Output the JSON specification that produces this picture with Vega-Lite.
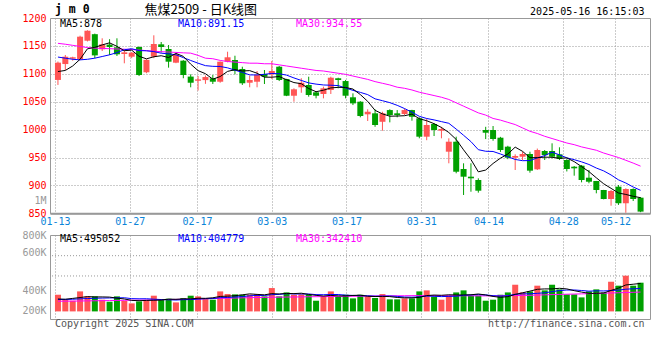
{
"$schema": "https://vega.github.io/schema/vega-lite/v6.json",
"autosize": {"type": "none"},
"padding": {"left": 50, "top": 18, "right": 610, "bottom": 342},
"background": "white",
"bounds": "flush",
"spacing": 21,
"config": {"view": {"stroke": "#999999", "strokeWidth": 1}, "axis": {"labelFont": "DejaVu Sans Mono", "labelOverlap": false, "labelFlush": false, "labelBound": false, "tickCount": 60}},
"datasets": {"k": [
{"i":0,"d":"01-13","o":1089,"h":1122,"l":1080,"c":1120,"v":295000,"m5":1104,"m10":1130,"m30":1154.6,"vm5":220000,"vm10":210000,"vm30":180000},
{"i":1,"d":"01-14","o":1117.5,"h":1133.7,"l":1106.8,"c":1130.6,"v":207000,"m5":1106,"m10":1128,"m30":1153,"vm5":215000,"vm10":212000,"vm30":181000},
{"i":2,"d":"01-15","o":1127,"h":1130.6,"l":1123.5,"c":1129.6,"v":189000,"m5":1114,"m10":1126,"m30":1151,"vm5":230000,"vm10":215000,"vm30":182000},
{"i":3,"d":"01-16","o":1126,"h":1168.3,"l":1124.7,"c":1166.5,"v":354000,"m5":1126,"m10":1125,"m30":1149,"vm5":245000,"vm10":222000,"vm30":184000},
{"i":4,"d":"01-17","o":1159.3,"h":1178,"l":1158,"c":1177.2,"v":266000,"m5":1144.8,"m10":1126,"m30":1147,"vm5":262000,"vm10":228000,"vm30":186000},
{"i":5,"d":"01-20","o":1171,"h":1172,"l":1128,"c":1133,"v":266000,"m5":1147.4,"m10":1128,"m30":1146,"vm5":256000,"vm10":232000,"vm30":188000},
{"i":6,"d":"01-21","o":1143.9,"h":1163.6,"l":1140.8,"c":1152.8,"v":207000,"m5":1151.8,"m10":1131,"m30":1145.5,"vm5":256000,"vm10":236000,"vm30":190000},
{"i":7,"d":"01-22","o":1152.4,"h":1162,"l":1133.7,"c":1148,"v":171000,"m5":1155.5,"m10":1134,"m30":1145,"vm5":253000,"vm10":238000,"vm30":192000},
{"i":8,"d":"01-23","o":1147.5,"h":1163.6,"l":1131.9,"c":1134.9,"v":266000,"m5":1149.2,"m10":1138,"m30":1144.5,"vm5":235000,"vm10":240000,"vm30":194000},
{"i":9,"d":"01-24","o":1135.5,"h":1142.6,"l":1118.8,"c":1138.5,"v":189000,"m5":1141.4,"m10":1143.1,"m30":1144,"vm5":220000,"vm10":241000,"vm30":196000},
{"i":10,"d":"01-27","o":1130.6,"h":1139,"l":1128,"c":1137.8,"v":142000,"m5":1142.4,"m10":1144.9,"m30":1143.5,"vm5":195000,"vm10":226000,"vm30":198000},
{"i":11,"d":"02-05","o":1148,"h":1149,"l":1096,"c":1097.8,"v":177000,"m5":1131.4,"m10":1141.6,"m30":1142.5,"vm5":189000,"vm10":223000,"vm30":200000},
{"i":12,"d":"02-06","o":1102.7,"h":1126,"l":1101,"c":1125,"v":201000,"m5":1126.8,"m10":1141.2,"m30":1141.5,"vm5":195000,"vm10":224000,"vm30":202000},
{"i":13,"d":"02-07","o":1130.6,"h":1169,"l":1128,"c":1153.4,"v":278000,"m5":1130.5,"m10":1139.8,"m30":1140.5,"vm5":197000,"vm10":216000,"vm30":205000},
{"i":14,"d":"02-10","o":1152.8,"h":1157,"l":1138,"c":1148,"v":207000,"m5":1132.4,"m10":1136.9,"m30":1139.6,"vm5":201000,"vm10":210000,"vm30":207000},
{"i":15,"d":"02-11","o":1144.4,"h":1151.6,"l":1111,"c":1121.7,"v":224000,"m5":1129.2,"m10":1135.8,"m30":1139,"vm5":217000,"vm10":206000,"vm30":210000},
{"i":16,"d":"02-12","o":1119.9,"h":1136,"l":1119,"c":1135,"v":159000,"m5":1136.6,"m10":1134,"m30":1138.3,"vm5":214000,"vm10":201000,"vm30":212000},
{"i":17,"d":"02-13","o":1123.5,"h":1124.5,"l":1092,"c":1097.8,"v":236000,"m5":1131.2,"m10":1129,"m30":1137.6,"vm5":221000,"vm10":208000,"vm30":215000},
{"i":18,"d":"02-14","o":1095,"h":1099,"l":1075.8,"c":1084,"v":278000,"m5":1117.3,"m10":1123.9,"m30":1137,"vm5":221000,"vm10":209000,"vm30":218000},
{"i":19,"d":"02-17","o":1087.5,"h":1096,"l":1070,"c":1090,"v":266000,"m5":1105.7,"m10":1119,"m30":1133,"vm5":233000,"vm10":217000,"vm30":222000},
{"i":20,"d":"02-18","o":1088.7,"h":1097,"l":1082,"c":1094.2,"v":218000,"m5":1100.2,"m10":1114.6,"m30":1128,"vm5":231000,"vm10":224000,"vm30":225000},
{"i":21,"d":"02-19","o":1092,"h":1097.8,"l":1081.7,"c":1085.8,"v":207000,"m5":1090.4,"m10":1113.4,"m30":1127,"vm5":241000,"vm10":227000,"vm30":228000},
{"i":22,"d":"02-20","o":1085.8,"h":1122,"l":1084,"c":1121.7,"v":354000,"m5":1095.1,"m10":1113.1,"m30":1124,"vm5":265000,"vm10":243000,"vm30":231000},
{"i":23,"d":"02-21","o":1121.7,"h":1139.6,"l":1120.6,"c":1129.6,"v":307000,"m5":1104.3,"m10":1110.7,"m30":1122,"vm5":270000,"vm10":246000,"vm30":234000},
{"i":24,"d":"02-24","o":1124.7,"h":1132.4,"l":1099,"c":1105.5,"v":301000,"m5":1107.4,"m10":1106.5,"m30":1121,"vm5":277000,"vm10":255000,"vm30":237000},
{"i":25,"d":"02-25","o":1108.6,"h":1112.7,"l":1080,"c":1083,"v":295000,"m5":1105.1,"m10":1102.6,"m30":1120,"vm5":293000,"vm10":262000,"vm30":240000},
{"i":26,"d":"02-26","o":1084,"h":1096.6,"l":1075.8,"c":1088.9,"v":295000,"m5":1105.7,"m10":1098,"m30":1119,"vm5":310000,"vm10":276000,"vm30":243000},
{"i":27,"d":"02-27","o":1085.8,"h":1105,"l":1075.8,"c":1097.8,"v":307000,"m5":1101,"m10":1098,"m30":1119,"vm5":301000,"vm10":283000,"vm30":246000},
{"i":28,"d":"02-28","o":1099.6,"h":1106.8,"l":1081.7,"c":1094.8,"v":266000,"m5":1094,"m10":1099.1,"m30":1118,"vm5":293000,"vm10":282000,"vm30":248000},
{"i":29,"d":"03-03","o":1099,"h":1123,"l":1090.6,"c":1105,"v":413000,"m5":1093.9,"m10":1100.6,"m30":1118,"vm5":315000,"vm10":296000,"vm30":251000},
{"i":30,"d":"03-04","o":1112.7,"h":1114,"l":1087,"c":1088.9,"v":266000,"m5":1095.1,"m10":1100.1,"m30":1116,"vm5":309000,"vm10":301000,"vm30":252000},
{"i":31,"d":"03-05","o":1090.6,"h":1091,"l":1060,"c":1060.7,"v":336000,"m5":1089.4,"m10":1097.6,"m30":1114,"vm5":318000,"vm10":314000,"vm30":254000},
{"i":32,"d":"03-06","o":1060.7,"h":1074,"l":1050,"c":1072.2,"v":295000,"m5":1084.3,"m10":1092.6,"m30":1112,"vm5":315000,"vm10":308000,"vm30":255000},
{"i":33,"d":"03-07","o":1075.8,"h":1092,"l":1066,"c":1084,"v":301000,"m5":1082.2,"m10":1088.1,"m30":1110,"vm5":322000,"vm10":308000,"vm30":257000},
{"i":34,"d":"03-10","o":1080,"h":1094.8,"l":1059,"c":1062,"v":301000,"m5":1073.6,"m10":1083.7,"m30":1108,"vm5":300000,"vm10":308000,"vm30":259000},
{"i":35,"d":"03-11","o":1066.8,"h":1069,"l":1056,"c":1060.7,"v":189000,"m5":1067.9,"m10":1081.5,"m30":1106,"vm5":284000,"vm10":297000,"vm30":260000},
{"i":36,"d":"03-12","o":1063.8,"h":1077,"l":1056,"c":1074,"v":272000,"m5":1070.6,"m10":1080,"m30":1105,"vm5":272000,"vm10":295000,"vm30":262000},
{"i":37,"d":"03-13","o":1071,"h":1094.8,"l":1063.8,"c":1093,"v":354000,"m5":1074.7,"m10":1079.5,"m30":1103,"vm5":283000,"vm10":299000,"vm30":264000},
{"i":38,"d":"03-14","o":1092,"h":1093,"l":1074,"c":1088.9,"v":260000,"m5":1075.7,"m10":1078.9,"m30":1101,"vm5":275000,"vm10":299000,"vm30":265000},
{"i":39,"d":"03-17","o":1087,"h":1089,"l":1056,"c":1060.7,"v":295000,"m5":1075.5,"m10":1074.5,"m30":1099,"vm5":274000,"vm10":287000,"vm30":267000},
{"i":40,"d":"03-18","o":1057.9,"h":1065,"l":1044,"c":1047,"v":230000,"m5":1072.7,"m10":1070.3,"m30":1096,"vm5":282000,"vm10":283000,"vm30":268000},
{"i":41,"d":"03-19","o":1050,"h":1051,"l":1022,"c":1024.4,"v":295000,"m5":1062.8,"m10":1066.7,"m30":1093,"vm5":287000,"vm10":279000,"vm30":270000},
{"i":42,"d":"03-20","o":1027.4,"h":1036.4,"l":1015.4,"c":1032,"v":260000,"m5":1050.6,"m10":1062.7,"m30":1090,"vm5":268000,"vm10":276000,"vm30":271000},
{"i":43,"d":"03-21","o":1029.2,"h":1036.4,"l":1005,"c":1008.2,"v":237000,"m5":1034.5,"m10":1055.1,"m30":1086,"vm5":263000,"vm10":269000,"vm30":272000},
{"i":44,"d":"03-24","o":1014,"h":1032,"l":998,"c":1029.2,"v":307000,"m5":1028.2,"m10":1051.8,"m30":1083,"vm5":266000,"vm10":270000,"vm30":274000},
{"i":45,"d":"03-25","o":1035,"h":1036.4,"l":1013,"c":1026,"v":213000,"m5":1024,"m10":1048.3,"m30":1080,"vm5":262000,"vm10":272000,"vm30":275000},
{"i":46,"d":"03-26","o":1029.2,"h":1035,"l":1022,"c":1026,"v":213000,"m5":1024.3,"m10":1043.5,"m30":1076,"vm5":246000,"vm10":266000,"vm30":276000},
{"i":47,"d":"03-27","o":1028,"h":1037.6,"l":1026,"c":1035,"v":230000,"m5":1024.9,"m10":1037.7,"m30":1074,"vm5":240000,"vm10":254000,"vm30":277000},
{"i":48,"d":"03-28","o":1035,"h":1035.5,"l":1016,"c":1023,"v":230000,"m5":1027.8,"m10":1031.2,"m30":1071,"vm5":239000,"vm10":251000,"vm30":279000},
{"i":49,"d":"03-31","o":1020.2,"h":1022,"l":984.4,"c":987.3,"v":354000,"m5":1019.5,"m10":1023.8,"m30":1067,"vm5":248000,"vm10":257000,"vm30":280000},
{"i":50,"d":"04-01","o":987.3,"h":1020,"l":981,"c":1008.2,"v":372000,"m5":1015.9,"m10":1019.9,"m30":1064,"vm5":280000,"vm10":271000,"vm30":279000},
{"i":51,"d":"04-02","o":1010,"h":1011.3,"l":988.5,"c":999.3,"v":260000,"m5":1010.6,"m10":1017.4,"m30":1061,"vm5":289000,"vm10":268000,"vm30":279000},
{"i":52,"d":"04-03","o":998,"h":1005,"l":984.4,"c":1001,"v":207000,"m5":1003.8,"m10":1014.3,"m30":1058,"vm5":285000,"vm10":262000,"vm30":278000},
{"i":53,"d":"04-07","o":960.4,"h":984.4,"l":939.6,"c":978.3,"v":278000,"m5":994.8,"m10":1011.3,"m30":1054,"vm5":294000,"vm10":266000,"vm30":278000},
{"i":54,"d":"04-08","o":978.3,"h":987.3,"l":921.7,"c":924.5,"v":336000,"m5":982.3,"m10":1000.9,"m30":1048,"vm5":291000,"vm10":269000,"vm30":277000},
{"i":55,"d":"04-09","o":929.4,"h":939.6,"l":882.8,"c":915.6,"v":372000,"m5":963.7,"m10":989.8,"m30":1042,"vm5":291000,"vm10":285000,"vm30":277000},
{"i":56,"d":"04-10","o":915.6,"h":939.6,"l":888.7,"c":912.7,"v":278000,"m5":946.4,"m10":978.5,"m30":1036,"vm5":294000,"vm10":292000,"vm30":276000},
{"i":57,"d":"04-11","o":909.7,"h":912.7,"l":887,"c":890.5,"v":278000,"m5":924.3,"m10":964,"m30":1030,"vm5":308000,"vm10":297000,"vm30":275000},
{"i":58,"d":"04-14","o":999.3,"h":1005,"l":983,"c":994.4,"v":189000,"m5":927.5,"m10":961.2,"m30":1026,"vm5":291000,"vm10":292000,"vm30":275000},
{"i":59,"d":"04-15","o":999.3,"h":1006.4,"l":980,"c":983.1,"v":207000,"m5":939.3,"m10":960.8,"m30":1020,"vm5":265000,"vm10":278000,"vm30":274000},
{"i":60,"d":"04-16","o":985.5,"h":987,"l":960,"c":963.4,"v":295000,"m5":948.8,"m10":956.3,"m30":1017,"vm5":249000,"vm10":270000,"vm30":276000},
{"i":61,"d":"04-17","o":969.4,"h":971,"l":947,"c":949.6,"v":336000,"m5":956.2,"m10":951.3,"m30":1013,"vm5":261000,"vm10":278000,"vm30":278000},
{"i":62,"d":"04-18","o":949.6,"h":955.7,"l":927.6,"c":952.7,"v":472000,"m5":968.6,"m10":946.5,"m30":1009,"vm5":300000,"vm10":304000,"vm30":280000},
{"i":63,"d":"04-21","o":951.4,"h":960.4,"l":945.5,"c":956.3,"v":336000,"m5":961,"m10":944.3,"m30":1003,"vm5":329000,"vm10":310000,"vm30":282000},
{"i":64,"d":"04-22","o":956.3,"h":960.4,"l":922.8,"c":926.4,"v":354000,"m5":949.7,"m10":944.5,"m30":997,"vm5":359000,"vm10":312000,"vm30":285000},
{"i":65,"d":"04-23","o":928.8,"h":966,"l":927.6,"c":963.4,"v":455000,"m5":949.7,"m10":949.3,"m30":993,"vm5":391000,"vm10":320000,"vm30":289000},
{"i":66,"d":"04-24","o":961.6,"h":963.4,"l":945.5,"c":954.3,"v":372000,"m5":950.6,"m10":953.4,"m30":988,"vm5":398000,"vm10":329000,"vm30":293000},
{"i":67,"d":"04-25","o":961.6,"h":975.4,"l":948.6,"c":951.4,"v":472000,"m5":950.4,"m10":959.5,"m30":984,"vm5":398000,"vm10":349000,"vm30":297000},
{"i":68,"d":"04-28","o":955.7,"h":968.3,"l":945.5,"c":947.3,"v":390000,"m5":948.6,"m10":954.8,"m30":980,"vm5":409000,"vm10":369000,"vm30":300000},
{"i":69,"d":"04-29","o":945.5,"h":947,"l":925,"c":929.4,"v":301000,"m5":949.2,"m10":949.4,"m30":976,"vm5":398000,"vm10":378000,"vm30":304000},
{"i":70,"d":"04-30","o":933.5,"h":934.8,"l":917.4,"c":930.6,"v":301000,"m5":942.6,"m10":946.1,"m30":973,"vm5":367000,"vm10":379000,"vm30":307000},
{"i":71,"d":"05-06","o":935.3,"h":936.6,"l":905.5,"c":909.7,"v":248000,"m5":933.7,"m10":942.2,"m30":969,"vm5":342000,"vm10":370000,"vm30":310000},
{"i":72,"d":"05-07","o":913.8,"h":927.6,"l":903.8,"c":906.6,"v":354000,"m5":924.7,"m10":937.5,"m30":966,"vm5":319000,"vm10":358000,"vm30":314000},
{"i":73,"d":"05-08","o":907.9,"h":908,"l":885.8,"c":891.8,"v":390000,"m5":913.6,"m10":931.1,"m30":963,"vm5":319000,"vm10":364000,"vm30":318000},
{"i":74,"d":"05-09","o":891.8,"h":892,"l":875,"c":875.6,"v":336000,"m5":902.9,"m10":926,"m30":958,"vm5":326000,"vm10":362000,"vm30":322000},
{"i":75,"d":"05-12","o":875.6,"h":891.8,"l":863.6,"c":890,"v":525000,"m5":894.7,"m10":918.7,"m30":954,"vm5":371000,"vm10":369000,"vm30":326000},
{"i":76,"d":"05-13","o":897.7,"h":900.7,"l":865,"c":868,"v":455000,"m5":886.4,"m10":910,"m30":950,"vm5":412000,"vm10":377000,"vm30":330000},
{"i":77,"d":"05-14","o":868,"h":894.8,"l":851,"c":893.5,"v":632000,"m5":883.8,"m10":904.3,"m30":945,"vm5":468000,"vm10":393000,"vm30":334000},
{"i":78,"d":"05-15","o":893.5,"h":894.8,"l":872,"c":875.6,"v":455000,"m5":880.5,"m10":897.1,"m30":940,"vm5":481000,"vm10":400000,"vm30":338000},
{"i":79,"d":"05-16","o":878,"h":879,"l":852,"c":853,"v":508000,"m5":878,"m10":891.2,"m30":934.5,"vm5":495000,"vm10":405000,"vm30":342000}
]},
"data": {"name": "k"},
"vconcat": [
{
"width": 600, "height": 195.3,
"layer": [
{"mark": {"type": "rule", "strokeWidth": 1},
 "encoding": {
  "x": {"field": "i", "type": "quantitative", "title": null, "scale": {"domain": [-0.4, 79.6], "nice": false, "zero": false},
   "axis": {"values": [-0.4, 9.7333, 18.8533, 28.9867, 39.12, 49.2533, 58.3733, 68.5067, 75.6], "tickCount": 60,
     "labelExpr": "datum.value < 5 ? '01-13' : datum.value < 15 ? '01-27' : datum.value < 25 ? '02-17' : datum.value < 35 ? '03-03' : datum.value < 45 ? '03-17' : datum.value < 55 ? '03-31' : datum.value < 65 ? '04-14' : datum.value < 72 ? '04-28' : '05-12'",
     "grid": true, "gridColor": "#999999", "gridDash": [1, 2], "tickSize": 0, "domain": true, "domainColor": "#999999", "domainWidth": 2, "labelColor": "#0b84d8", "labelFontSize": 10, "labelPadding": 3, "labelFlush": false, "labelOverlap": false}},
  "y": {"field": "l", "type": "quantitative", "title": null, "scale": {"domain": [850, 1200], "nice": false, "zero": false},
   "axis": {"values": [850, 873.8, 900, 950, 1000, 1050, 1100, 1150, 1200], "tickCount": 60,
     "labelExpr": "datum.value > 860 && datum.value < 880 ? '1M' : format(datum.value, 'd')",
     "labelColor": {"condition": {"test": "datum.value > 860 && datum.value < 880", "value": "#999999"}, "value": "#ff0000"},
     "gridOpacity": {"condition": {"test": "datum.value < 880 || datum.value > 1190", "value": 0}, "value": 1},
     "grid": true, "gridColor": "#999999", "gridDash": [1, 2], "tickSize": 0, "domain": false, "labelFontSize": 10, "labelPadding": 4, "labelOverlap": false, "labelFlush": false}},
  "y2": {"field": "h"},
  "color": {"condition": {"test": "datum.c >= datum.o", "value": "#ff5555"}, "value": "#00a000"}
 }},
{"mark": {"type": "bar", "size": 6},
 "encoding": {
  "x": {"field": "i", "type": "quantitative", "title": null},
  "y": {"field": "o", "type": "quantitative", "title": null},
  "y2": {"field": "c"},
  "color": {"condition": {"test": "datum.c >= datum.o", "value": "#ff5555"}, "value": "#00a000"}
 }},
{"mark": {"type": "line", "color": "#ff00ff", "strokeWidth": 1},
 "encoding": {"x": {"field": "i", "type": "quantitative", "title": null}, "y": {"field": "m30", "type": "quantitative", "title": null}}},
{"mark": {"type": "line", "color": "#0000ff", "strokeWidth": 1},
 "encoding": {"x": {"field": "i", "type": "quantitative", "title": null}, "y": {"field": "m10", "type": "quantitative", "title": null}}},
{"mark": {"type": "line", "color": "#000000", "strokeWidth": 1},
 "encoding": {"x": {"field": "i", "type": "quantitative", "title": null}, "y": {"field": "m5", "type": "quantitative", "title": null}}},
{"data": {"values": [{}]}, "mark": {"type": "text", "align": "left", "baseline": "middle", "font": "DejaVu Sans Mono", "fontSize": 10, "color": "#000000"},
 "encoding": {"x": {"datum": 0.27, "type": "quantitative"}, "y": {"datum": 1190, "type": "quantitative"}, "text": {"value": "MA5:878"}}},
{"data": {"values": [{}]}, "mark": {"type": "text", "align": "left", "baseline": "middle", "font": "DejaVu Sans Mono", "fontSize": 10, "color": "#0000ff"},
 "encoding": {"x": {"datum": 16.27, "type": "quantitative"}, "y": {"datum": 1190, "type": "quantitative"}, "text": {"value": "MA10:891.15"}}},
{"data": {"values": [{}]}, "mark": {"type": "text", "align": "left", "baseline": "middle", "font": "DejaVu Sans Mono", "fontSize": 10, "color": "#ff00ff"},
 "encoding": {"x": {"datum": 32.27, "type": "quantitative"}, "y": {"datum": 1190, "type": "quantitative"}, "text": {"value": "MA30:934.55"}}},
{"data": {"values": [{}]}, "mark": {"type": "text", "align": "left", "baseline": "middle", "font": "DejaVu Sans Mono", "fontSize": 11.5, "fontWeight": "bold", "color": "#000000"},
 "encoding": {"x": {"datum": -0.4, "type": "quantitative"}, "y": {"datum": 1214.3, "type": "quantitative"}, "text": {"value": "j m 0"}}},
{"data": {"values": [{}]}, "mark": {"type": "text", "align": "left", "baseline": "middle", "font": "Noto Sans CJK SC", "fontSize": 13, "color": "#000000"},
 "encoding": {"x": {"datum": 11.73, "type": "quantitative"}, "y": {"datum": 1214.3, "type": "quantitative"}, "text": {"value": "焦煤2509 - 日K线图"}}},
{"data": {"values": [{}]}, "mark": {"type": "text", "align": "right", "baseline": "middle", "font": "DejaVu Sans Mono", "fontSize": 10, "color": "#000000"},
 "encoding": {"x": {"datum": 79.53, "type": "quantitative"}, "y": {"datum": 1211.3, "type": "quantitative"}, "text": {"value": "2025-05-16 16:15:03"}}}
]
},
{
"width": 600, "height": 84,
"layer": [
{"data": {"values": [{"g": 986000}, {"g": 627000}]}, "mark": {"type": "rule", "color": "#999999", "strokeDash": [1, 2], "strokeWidth": 1},
 "encoding": {"y": {"field": "g", "type": "quantitative", "title": null}}},
{"mark": {"type": "bar", "size": 6},
 "encoding": {
  "x": {"field": "i", "type": "quantitative", "title": null, "scale": {"domain": [-0.4, 79.6], "nice": false, "zero": false},
   "axis": {"values": [-0.4, 9.7333, 18.8533, 28.9867, 39.12, 49.2533, 58.3733, 68.5067, 75.6], "labels": false, "tickCount": 60,
     "grid": true, "gridColor": "#999999", "gridDash": [1, 2], "ticks": false, "domain": false}},
  "y": {"field": "v", "type": "quantitative", "title": null, "scale": {"domain": [-134500, 1352000], "nice": false, "zero": false},
   "axis": {"values": [1352000, 1034000, 366000, 12000], "tickCount": 60,
     "labelExpr": "datum.value > 1200000 ? '800K' : datum.value > 1000000 ? '600K' : datum.value > 300000 ? '400K' : '200K'",
     "labelColor": "#999999", "grid": false, "tickSize": 0, "domain": false, "labelFontSize": 10, "labelPadding": 4, "labelOverlap": false, "labelFlush": false}},
  "y2": {"datum": 0},
  "color": {"condition": {"test": "datum.c >= datum.o", "value": "#ff5555"}, "value": "#00a000"}
 }},
{"mark": {"type": "line", "color": "#ff00ff", "strokeWidth": 1},
 "encoding": {"x": {"field": "i", "type": "quantitative", "title": null}, "y": {"field": "vm30", "type": "quantitative", "title": null}}},
{"mark": {"type": "line", "color": "#0000ff", "strokeWidth": 1},
 "encoding": {"x": {"field": "i", "type": "quantitative", "title": null}, "y": {"field": "vm10", "type": "quantitative", "title": null}}},
{"mark": {"type": "line", "color": "#000000", "strokeWidth": 1},
 "encoding": {"x": {"field": "i", "type": "quantitative", "title": null}, "y": {"field": "vm5", "type": "quantitative", "title": null}}},
{"data": {"values": [{}]}, "mark": {"type": "text", "align": "left", "baseline": "middle", "font": "DejaVu Sans Mono", "fontSize": 10, "color": "#000000"},
 "encoding": {"x": {"datum": 0.27, "type": "quantitative"}, "y": {"datum": 1278000, "type": "quantitative"}, "text": {"value": "MA5:495052"}}},
{"data": {"values": [{}]}, "mark": {"type": "text", "align": "left", "baseline": "middle", "font": "DejaVu Sans Mono", "fontSize": 10, "color": "#0000ff"},
 "encoding": {"x": {"datum": 16.27, "type": "quantitative"}, "y": {"datum": 1278000, "type": "quantitative"}, "text": {"value": "MA10:404779"}}},
{"data": {"values": [{}]}, "mark": {"type": "text", "align": "left", "baseline": "middle", "font": "DejaVu Sans Mono", "fontSize": 10, "color": "#ff00ff"},
 "encoding": {"x": {"datum": 32.27, "type": "quantitative"}, "y": {"datum": 1278000, "type": "quantitative"}, "text": {"value": "MA30:342410"}}},
{"data": {"values": [{}]}, "mark": {"type": "text", "align": "left", "baseline": "middle", "font": "DejaVu Sans Mono", "fontSize": 10, "color": "#555555"},
 "encoding": {"x": {"datum": -0.4, "type": "quantitative"}, "y": {"datum": -223000, "type": "quantitative"}, "text": {"value": "Copyright 2025 SINA.COM"}}},
{"data": {"values": [{}]}, "mark": {"type": "text", "align": "right", "baseline": "middle", "font": "DejaVu Sans Mono", "fontSize": 10, "color": "#555555"},
 "encoding": {"x": {"datum": 79.53, "type": "quantitative"}, "y": {"datum": -223000, "type": "quantitative"}, "text": {"value": "http://finance.sina.com.cn"}}}
]
}
]
}
